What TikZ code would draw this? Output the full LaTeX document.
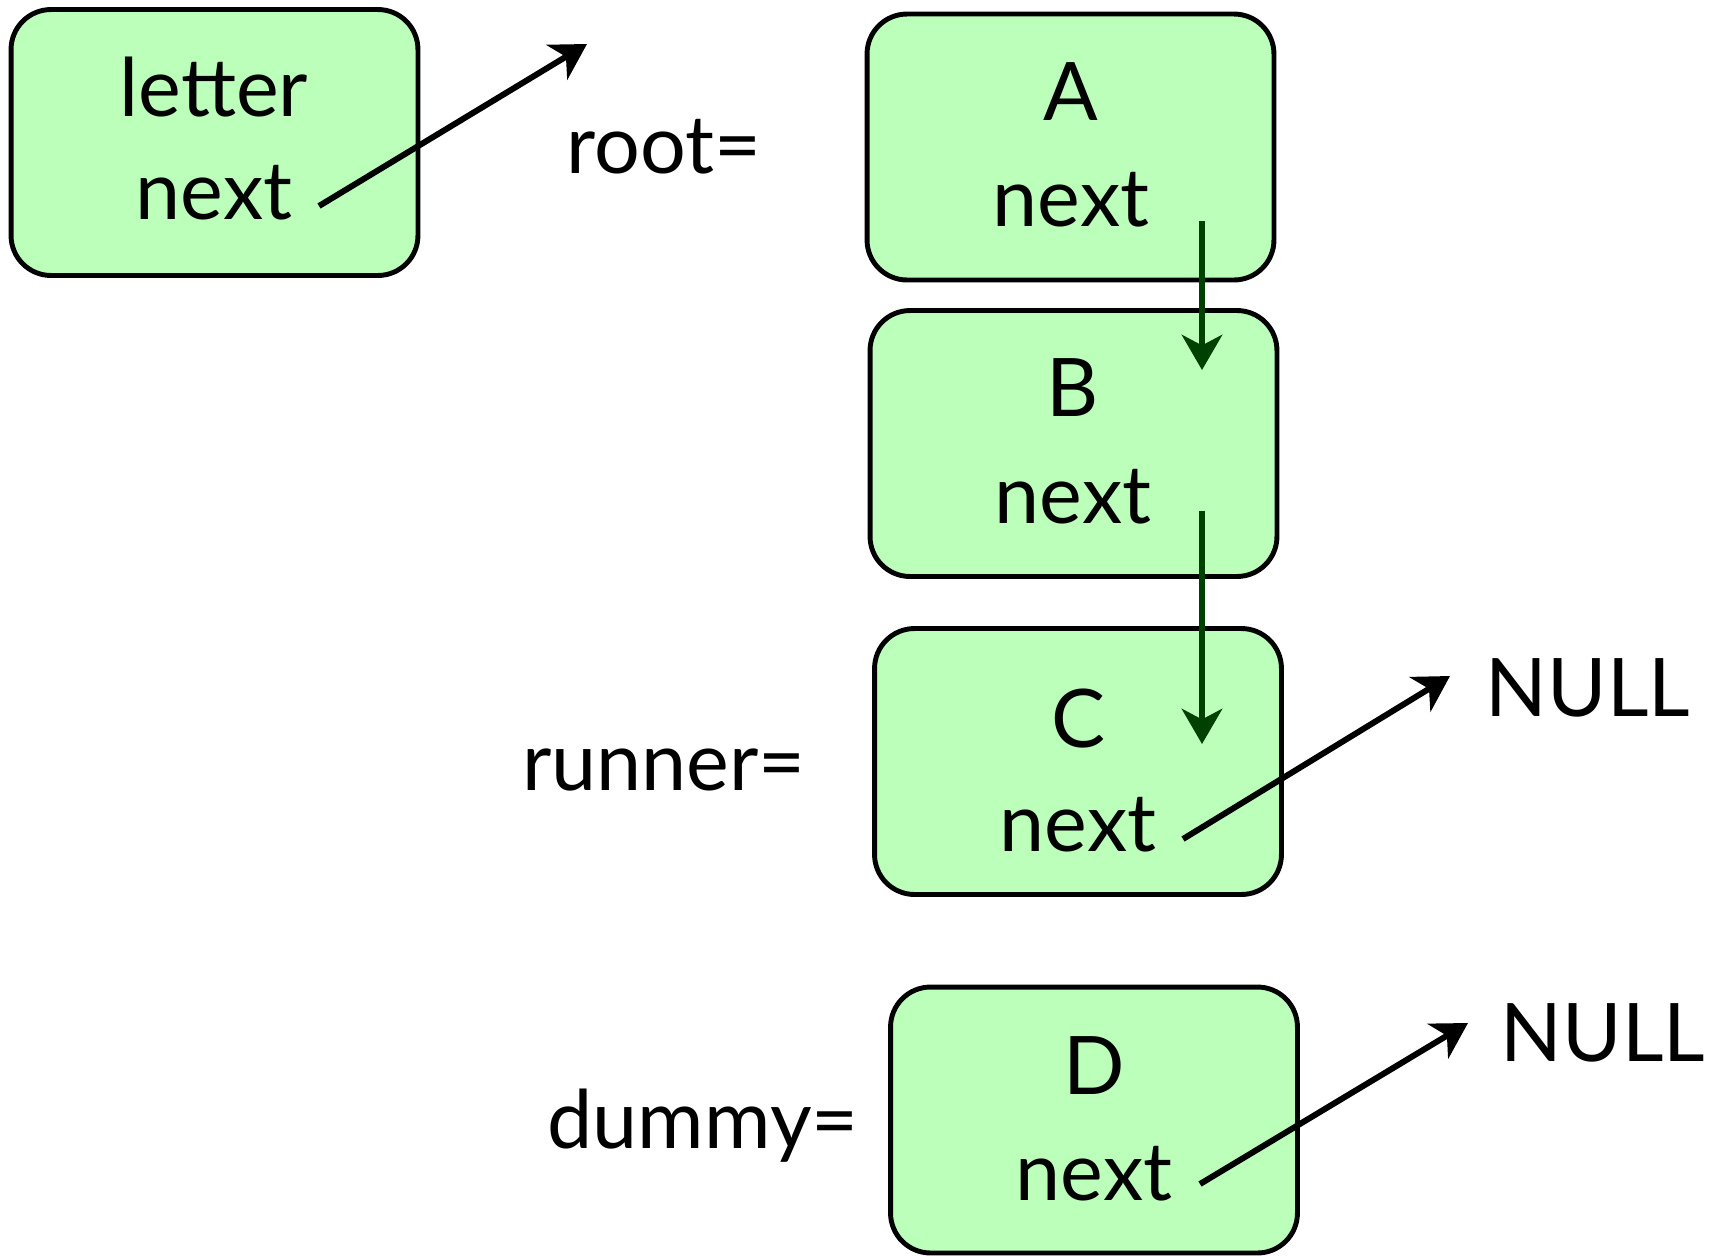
\documentclass[tikz,border=0pt]{standalone}
\usepackage{fontspec}
\setmainfont{Lato}
\usetikzlibrary{arrows.meta}
\definecolor{cellgreen}{HTML}{BBFFBB}
\definecolor{linkgreen}{HTML}{004000}

\begin{document}
\begin{tikzpicture}[x=0.02cm, y=-0.02cm,
    cell/.style={draw=black, line width=2.8pt, fill=cellgreen, rounded corners=0.8cm,
                 minimum width=8.14cm, minimum height=5.32cm},
    lbl/.style={anchor=base, inner sep=0pt, font=\fontsize{46}{56}\selectfont},
    ptr/.style={line width=3.4pt, -{Stealth[length=20pt, width=23pt, inset=6pt]}}]
    \useasboundingbox (0,0) rectangle (1715,1255);
    % Cells
    \node[cell] (cLetter) at (214.5,142.5) {};
    \node[cell] (cA) at (1070.5,147) {};
    \node[cell] (cB) at (1073.5,443.5) {};
    \node[cell] (cC) at (1078,761.5) {};
    \node[cell] (cD) at (1094,1120) {};
    % Cell contents
    \node[lbl] (tLetter) at (214,116) {letter};
    \node[lbl] (nLetter) at (214,219) {next};
    \node[lbl] (tA) at (1071,120) {A};
    \node[lbl] (nA) at (1071,226) {next};
    \node[lbl] (tB) at (1073,416) {B};
    \node[lbl] (nB) at (1073,523) {next};
    \node[lbl] (tC) at (1078,747) {C};
    \node[lbl] (nC) at (1078,851) {next};
    \node[lbl] (tD) at (1094,1094) {D};
    \node[lbl] (nD) at (1094,1200) {next};
    % Variable names
    \node[lbl] (root) at (664,173) {root=};
    \node[lbl] (runner) at (664,790) {runner=};
    \node[lbl] (dummy) at (703,1148) {dummy=};
    \node[lbl] (nullC) at (1588,716) {NULL};
    \node[lbl] (nullD) at (1603,1061) {NULL};
    % Pointer ends
    \coordinate (pLetter) at (319,206);
    \coordinate (qLetter) at (587,44);
    \coordinate (pA) at (1202,221);
    \coordinate (qA) at (1202,370);
    \coordinate (pB) at (1202,511);
    \coordinate (qB) at (1202,744);
    \coordinate (pC) at (1183,839);
    \coordinate (qC) at (1450,676);
    \coordinate (pD) at (1200,1184);
    \coordinate (qD) at (1468,1023);
    % Pointers
    \draw[ptr] (pLetter) -- (qLetter);
    \draw[ptr, linkgreen] (pA) -- (qA);
    \draw[ptr, linkgreen] (pB) -- (qB);
    \draw[ptr] (pC) -- (qC);
    \draw[ptr] (pD) -- (qD);
\end{tikzpicture}
\end{document}
